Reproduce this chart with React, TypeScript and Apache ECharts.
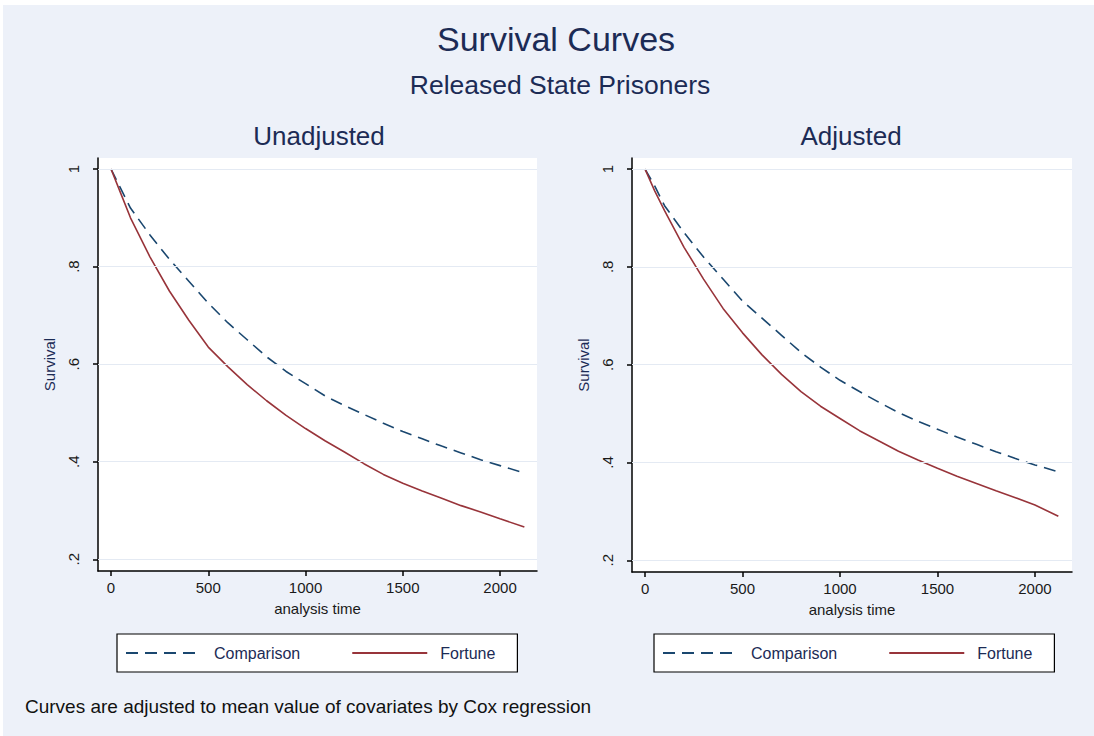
import React, { useEffect, useRef } from "react";
import * as echarts from "echarts";

// ---------- data ----------
const timesUnadj = [0, 50, 100, 200, 300, 400, 500, 600, 700, 800, 900, 1000, 1100, 1200, 1300, 1400, 1500, 1600, 1700, 1800, 1900, 2000, 2125];
const unadjComparison = [1.0, 0.96, 0.92, 0.865, 0.815, 0.77, 0.725, 0.685, 0.65, 0.615, 0.585, 0.56, 0.535, 0.515, 0.497, 0.479, 0.462, 0.447, 0.432, 0.418, 0.404, 0.392, 0.377];
const unadjFortune = [1.0, 0.95, 0.9, 0.82, 0.75, 0.69, 0.635, 0.595, 0.558, 0.525, 0.495, 0.468, 0.443, 0.42, 0.396, 0.374, 0.356, 0.34, 0.325, 0.31, 0.297, 0.283, 0.266];

const timesAdj = [0, 50, 100, 200, 300, 400, 500, 600, 700, 800, 900, 1000, 1100, 1200, 1300, 1400, 1500, 1600, 1700, 1800, 1900, 2000, 2120];
const adjComparison = [1.0, 0.965, 0.925, 0.87, 0.82, 0.775, 0.73, 0.695, 0.66, 0.625, 0.595, 0.568, 0.545, 0.523, 0.502, 0.484, 0.468, 0.452, 0.437, 0.422, 0.408, 0.395, 0.381];
const adjFortune = [1.0, 0.955, 0.915, 0.84, 0.775, 0.715, 0.665, 0.62, 0.58, 0.545, 0.515, 0.49, 0.465, 0.444, 0.423, 0.405, 0.388, 0.372, 0.357, 0.342, 0.328, 0.313, 0.29];

const xTicks = [0, 500, 1000, 1500, 2000];
const xTickLabels = ["0", "500", "1000", "1500", "2000"];
const yTicks = [0.2, 0.4, 0.6, 0.8, 1];
const yTickLabels = [".2", ".4", ".6", ".8", "1"];

const seriesNames = ["Comparison", "Fortune"];
const panelTitles = ["Unadjusted", "Adjusted"];
const mainTitle = "Survival Curves";
const subTitle = "Released State Prisoners";
const footnote = "Curves are adjusted to mean value of covariates by Cox regression";
const xName = "analysis time";
const yName = "Survival";

// ---------- styles ----------
const FONT = "Liberation Sans, Arial, sans-serif";
const NAVY = "#1a476f";
const MAROON = "#98343a";
const TEXT = "#1c2b55";
const BG = "#edf1f9";

const pair = (t: number[], v: number[]) => t.map((x, i) => [x, v[i]]);
const lookup = (ticks: number[], labels: string[], v: number) => {
  const k = ticks.findIndex((t) => Math.abs(t - v) < 1e-6);
  return k >= 0 ? labels[k] : "";
};

export default function App() {
  const ref = useRef<HTMLDivElement>(null);
  useEffect(() => {
    if (!ref.current) return;
    const chart = echarts.init(ref.current, undefined, { renderer: "svg" });

    const grids = [
      { left: 98, top: 158, width: 439, height: 413 },
      { left: 632, top: 158, width: 440, height: 414 },
    ];

    const xAxes = grids.map((_, i) => ({
      type: "value",
      gridIndex: i,
      min: -67,
      max: 2190,
      name: xName,
      nameLocation: "middle",
      nameGap: 30,
      nameTextStyle: { fontFamily: FONT, fontSize: 15, color: "#1a1a1a" },
      axisLine: { show: true, onZero: false, lineStyle: { color: "#000", width: 1.5 } },
      axisTick: { show: true, customValues: xTicks, length: 5, lineStyle: { color: "#000", width: 1.5 } },
      axisLabel: {
        customValues: xTicks,
        margin: 9,
        fontFamily: FONT,
        fontSize: 15,
        color: "#1a1a1a",
        formatter: (v: number) => lookup(xTicks, xTickLabels, v),
      },
      splitLine: { show: false },
    }));

    const yAxes = grids.map((_, i) => ({
      type: "value",
      gridIndex: i,
      min: 0.176,
      max: 1.0226,
      name: yName,
      nameLocation: "middle",
      nameGap: 41,
      nameTextStyle: { fontFamily: FONT, fontSize: 15, color: TEXT },
      axisLine: { show: true, onZero: false, lineStyle: { color: "#000", width: 1.5 } },
      axisTick: { show: true, customValues: yTicks, length: 5, lineStyle: { color: "#000", width: 1.5 } },
      axisLabel: {
        customValues: yTicks,
        rotate: 90,
        margin: 17,
        fontFamily: FONT,
        fontSize: 15,
        color: "#1a1a1a",
        formatter: (v: number) => lookup(yTicks, yTickLabels, v),
      },
      splitLine: { show: false },
    }));

    const panels = [
      { t: timesUnadj, comp: unadjComparison, fort: unadjFortune },
      { t: timesAdj, comp: adjComparison, fort: adjFortune },
    ];

    const series: any[] = [];
    panels.forEach((p, i) => {
      series.push({
        type: "line",
        xAxisIndex: i,
        yAxisIndex: i,
        data: [],
        silent: true,
        z: 1,
        markLine: {
          silent: true,
          symbol: "none",
          label: { show: false },
          lineStyle: { color: "#e4eaf3", width: 1, type: "solid" },
          data: yTicks.map((v) => ({ yAxis: v })),
        },
      });
      series.push({
        name: seriesNames[0],
        type: "line",
        xAxisIndex: i,
        yAxisIndex: i,
        showSymbol: false,
        symbol: "none",
        z: 3,
        lineStyle: { color: NAVY, width: 1.6, type: [12, 7] },
        itemStyle: { color: NAVY },
        data: pair(p.t, p.comp),
      });
      series.push({
        name: seriesNames[1],
        type: "line",
        xAxisIndex: i,
        yAxisIndex: i,
        showSymbol: false,
        symbol: "none",
        z: 3,
        lineStyle: { color: MAROON, width: 1.6, type: "solid" },
        itemStyle: { color: MAROON },
        data: pair(p.t, p.fort),
      });
    });

    const legendLefts = [117, 654];
    const legends = legendLefts.map((left) => ({
      left,
      top: 634,
      orient: "horizontal",
      backgroundColor: "#fff",
      borderColor: "#000",
      borderWidth: 1.2,
      borderRadius: 0,
      padding: [11, 22, 11, 8],
      itemWidth: 75,
      itemHeight: 14,
      itemGap: 51,
      selectedMode: false,
      itemStyle: { opacity: 0 },
      textStyle: { fontFamily: FONT, fontSize: 16, color: TEXT, padding: [0, 0, 0, 8] },
      data: seriesNames,
    }));

    const option: any = {
      animation: false,
      backgroundColor: "#fff",
      graphic: [
        { type: "rect", shape: { x: 3, y: 5, width: 1091, height: 731 }, style: { fill: BG }, z: -10, silent: true },
      ],
      title: [
        { text: mainTitle, left: 551, textAlign: "center", top: 17, textStyle: { fontFamily: FONT, fontSize: 34, fontWeight: "normal", color: TEXT } },
        { text: subTitle, left: 555, textAlign: "center", top: 66, textStyle: { fontFamily: FONT, fontSize: 26.5, fontWeight: "normal", color: TEXT } },
        { text: panelTitles[0], left: 314, textAlign: "center", top: 118, textStyle: { fontFamily: FONT, fontSize: 26, fontWeight: "normal", color: TEXT } },
        { text: panelTitles[1], left: 846, textAlign: "center", top: 118, textStyle: { fontFamily: FONT, fontSize: 26, fontWeight: "normal", color: TEXT } },
        { text: footnote, left: 20, top: 692, textStyle: { fontFamily: FONT, fontSize: 19, fontWeight: "normal", color: "#111" } },
      ],
      legend: legends,
      grid: grids.map((g) => ({ ...g, show: true, backgroundColor: "#fff", borderWidth: 0 })),
      xAxis: xAxes,
      yAxis: yAxes,
      series,
    };

    chart.setOption(option);
    return () => chart.dispose();
  }, []);

  return <div ref={ref} style={{ position: "fixed", left: 0, top: 0, width: 1094, height: 736 }} />;
}
